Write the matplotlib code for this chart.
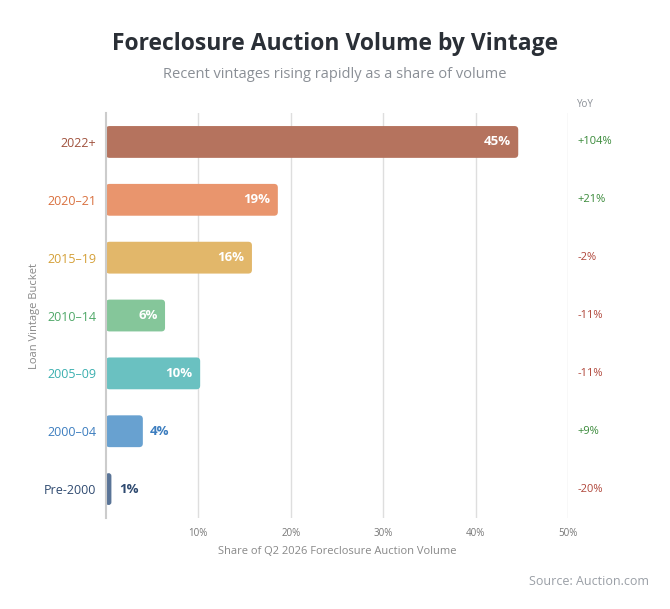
import numpy as np
import matplotlib
matplotlib.use("Agg")
import matplotlib.pyplot as plt
from matplotlib.patches import FancyBboxPatch

# data
buckets = ["2022+", "2020–21", "2015–19", "2010–14", "2005–09", "2000–04", "Pre-2000"]
share = [44.6, 18.6, 15.8, 6.4, 10.2, 4.0, 0.6]
share_labels = ["45%", "19%", "16%", "6%", "10%", "4%", "1%"]
yoy = ["+104%", "+21%", "-2%", "-11%", "-11%", "+9%", "-20%"]

bar_colors = ["#b5735e", "#e9956d", "#e2b76a", "#85c69a", "#6ac1c1", "#68a1d0", "#5a7497"]
tick_colors = ["#a0523d", "#d9703e", "#d4a038", "#4fa868", "#3aafaf", "#3c7dbf", "#2f4a70"]

plt.rcParams['font.family'] = ['Open Sans', 'DejaVu Sans']

fig = plt.figure(figsize=(6.7, 6.09), dpi=100)
ax = fig.add_axes([0.158, 0.1494, 0.69, 0.665])

ax.set_xlim(0, 50)
ax.set_ylim(len(buckets) - 0.5, -0.5)

y = np.arange(len(buckets))
bars = ax.barh(y, share, height=0.55, color=bar_colors, zorder=2)

# swap plain bars for rounded ones (radius ~4px)
aspect = (7 / 406) / (50 / 462)
for b in bars:
    x0, y0, w, h = b.get_x(), b.get_y(), b.get_width(), b.get_height()
    r = min(0.4, w / 2)
    p = FancyBboxPatch((x0, y0), w, h, boxstyle="round,pad=0,rounding_size=%f" % r,
                       mutation_aspect=aspect, facecolor=b.get_facecolor(),
                       edgecolor="none", zorder=2)
    ax.add_patch(p)
    b.set_visible(False)

for i, v in enumerate(share):
    if v >= 5:
        ax.text(v - 0.8, i, share_labels[i], ha="right", va="center",
                color="white", fontsize=9.5, fontweight="bold", zorder=3)
    else:
        ax.text(v + 0.8, i, share_labels[i], ha="left", va="center",
                color=tick_colors[i], fontsize=9.5, fontweight="bold", zorder=3)
    c = "#3a8a3a" if yoy[i].startswith("+") else "#b0463a"
    ax.text(51.0, i, yoy[i], ha="left", va="center", color=c, fontsize=8,
            clip_on=False)

ax.text(51.0, -0.55, "YoY", ha="left", va="bottom", color="#8a8f96", fontsize=7)

ax.set_yticks(y)
ax.set_yticklabels(buckets, fontsize=9)
for lab, c in zip(ax.get_yticklabels(), tick_colors):
    lab.set_color(c)
ax.set_xticks([10, 20, 30, 40, 50])
ax.set_xticklabels(["10%", "20%", "30%", "40%", "50%"], fontsize=7, color="#777777")
ax.tick_params(length=0, pad=7)
ax.xaxis.grid(True, color="#dedede", linewidth=1, zorder=0)
for s in ["top", "right", "bottom"]:
    ax.spines[s].set_visible(False)
ax.spines["left"].set_color("#cccccc")
ax.spines["left"].set_linewidth(1.5)

ax.set_xlabel("Share of Q2 2026 Foreclosure Auction Volume", fontsize=8,
              color="#888888", labelpad=5)
ax.set_ylabel("Loan Vintage Bucket", fontsize=8, color="#888888", labelpad=3)

fig.text(0.5, 0.918, "Foreclosure Auction Volume by Vintage", ha="center",
         fontsize=16.5, fontweight="bold", color="#2a2f36")
fig.text(0.5, 0.872, "Recent vintages rising rapidly as a share of volume",
         ha="center", fontsize=10.5, color="#8a8f96")
fig.text(0.968, 0.04, "Source: Auction.com", ha="right", fontsize=9,
         color="#9a9fa6")

fig.savefig("out.png", dpi=100, facecolor="white")
